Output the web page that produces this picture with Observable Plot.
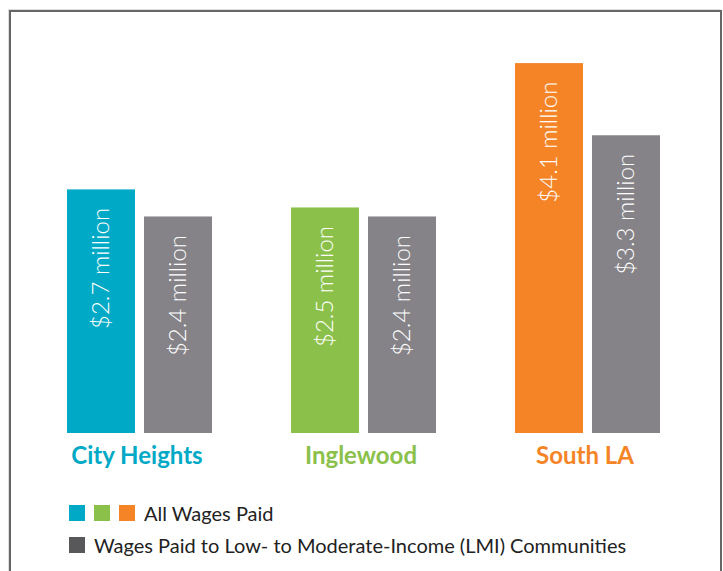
<!DOCTYPE html>
<html>
<head>
<meta charset="utf-8">
<script src="https://cdn.jsdelivr.net/npm/d3@7"></script>
<script src="https://cdn.jsdelivr.net/npm/@observablehq/plot@0.6"></script>
<style>
  html, body { margin: 0; padding: 0; background: #fff; }
  body { width: 723px; height: 571px; overflow: hidden; position: relative; font-family: Lato, "Open Sans", sans-serif; }
  #frame { position: absolute; left: 9px; top: 10px; width: 709px; height: 600px; border: 2px solid #666; box-shadow: -1px -1px 0 #ddd; }
  #chart { position: absolute; left: 0; top: 0; }
  .legend-row { position: absolute; left: 69px; display: flex; align-items: center; font-size: 20px; color: #222; white-space: nowrap; }
  .sw { width: 16px; height: 16px; margin-right: 9px; flex: none; }
</style>
</head>
<body>
<div id="frame"></div>
<div id="chart"></div>
<div id="legend"></div>
<script>
const cities = ["City Heights", "Inglewood", "South LA"];
const allWages = [2.7, 2.5, 4.1];
const lmiWages = [2.4, 2.4, 3.3];
const cityColors = ["#00a9c5", "#8bc14a", "#f58427"];
const lmiColor = "#858387";
const legendLmiColor = "#58585b";
const seriesKeys = ["all", "lmi"];
const legendLabels = ["All Wages Paid", "Wages Paid to Low- to Moderate-Income (LMI) Communities"];

const rows = [];
cities.forEach((c, i) => {
  rows.push({city: c, series: "all", value: allWages[i], color: cityColors[i]});
  rows.push({city: c, series: "lmi", value: lmiWages[i], color: lmiColor});
});
const cityRows = cities.map((c, i) => ({city: c, color: cityColors[i]}));

const font = "Lato, 'Open Sans', sans-serif";
const chart = Plot.plot({
  width: 723,
  height: 480,
  marginLeft: 66,
  marginRight: 62,
  marginTop: 27,
  marginBottom: 47,
  style: {fontFamily: font, background: "transparent"},
  fx: {domain: cities, paddingInner: 0.345, paddingOuter: 0, axis: null},
  x: {domain: seriesKeys, paddingInner: 0.115, paddingOuter: 0, axis: null},
  y: {domain: [0, 4.5], axis: null},
  color: {type: "identity"},
  marks: [
    Plot.barY(rows, {fx: "city", x: "series", y: "value", fill: "color"}),
    Plot.text(rows, {
      fx: "city", x: "series", y: "value",
      text: d => `$${d.value} million`,
      rotate: -90, textAnchor: "end", lineAnchor: "middle",
      dy: 18, fill: "white", fontSize: 24, fontWeight: 300, fontFamily: font
    }),
    Plot.text(cityRows, {
      fx: "city", text: "city", frameAnchor: "bottom", lineAnchor: "middle",
      dx: -3, dy: 23, fill: "color", fontSize: 24, fontWeight: "bold", fontFamily: font
    })
  ]
});
document.getElementById("chart").appendChild(chart);

const legend = d3.select("#legend");
const r1 = legend.append("div").attr("class", "legend-row").style("top", "501px");
cityColors.forEach(c => r1.append("div").attr("class", "sw").style("background", c));
r1.append("span").text(legendLabels[0]);
const r2 = legend.append("div").attr("class", "legend-row").style("top", "533px");
r2.append("div").attr("class", "sw").style("background", legendLmiColor);
r2.append("span").text(legendLabels[1]);
</script>
</body>
</html>
